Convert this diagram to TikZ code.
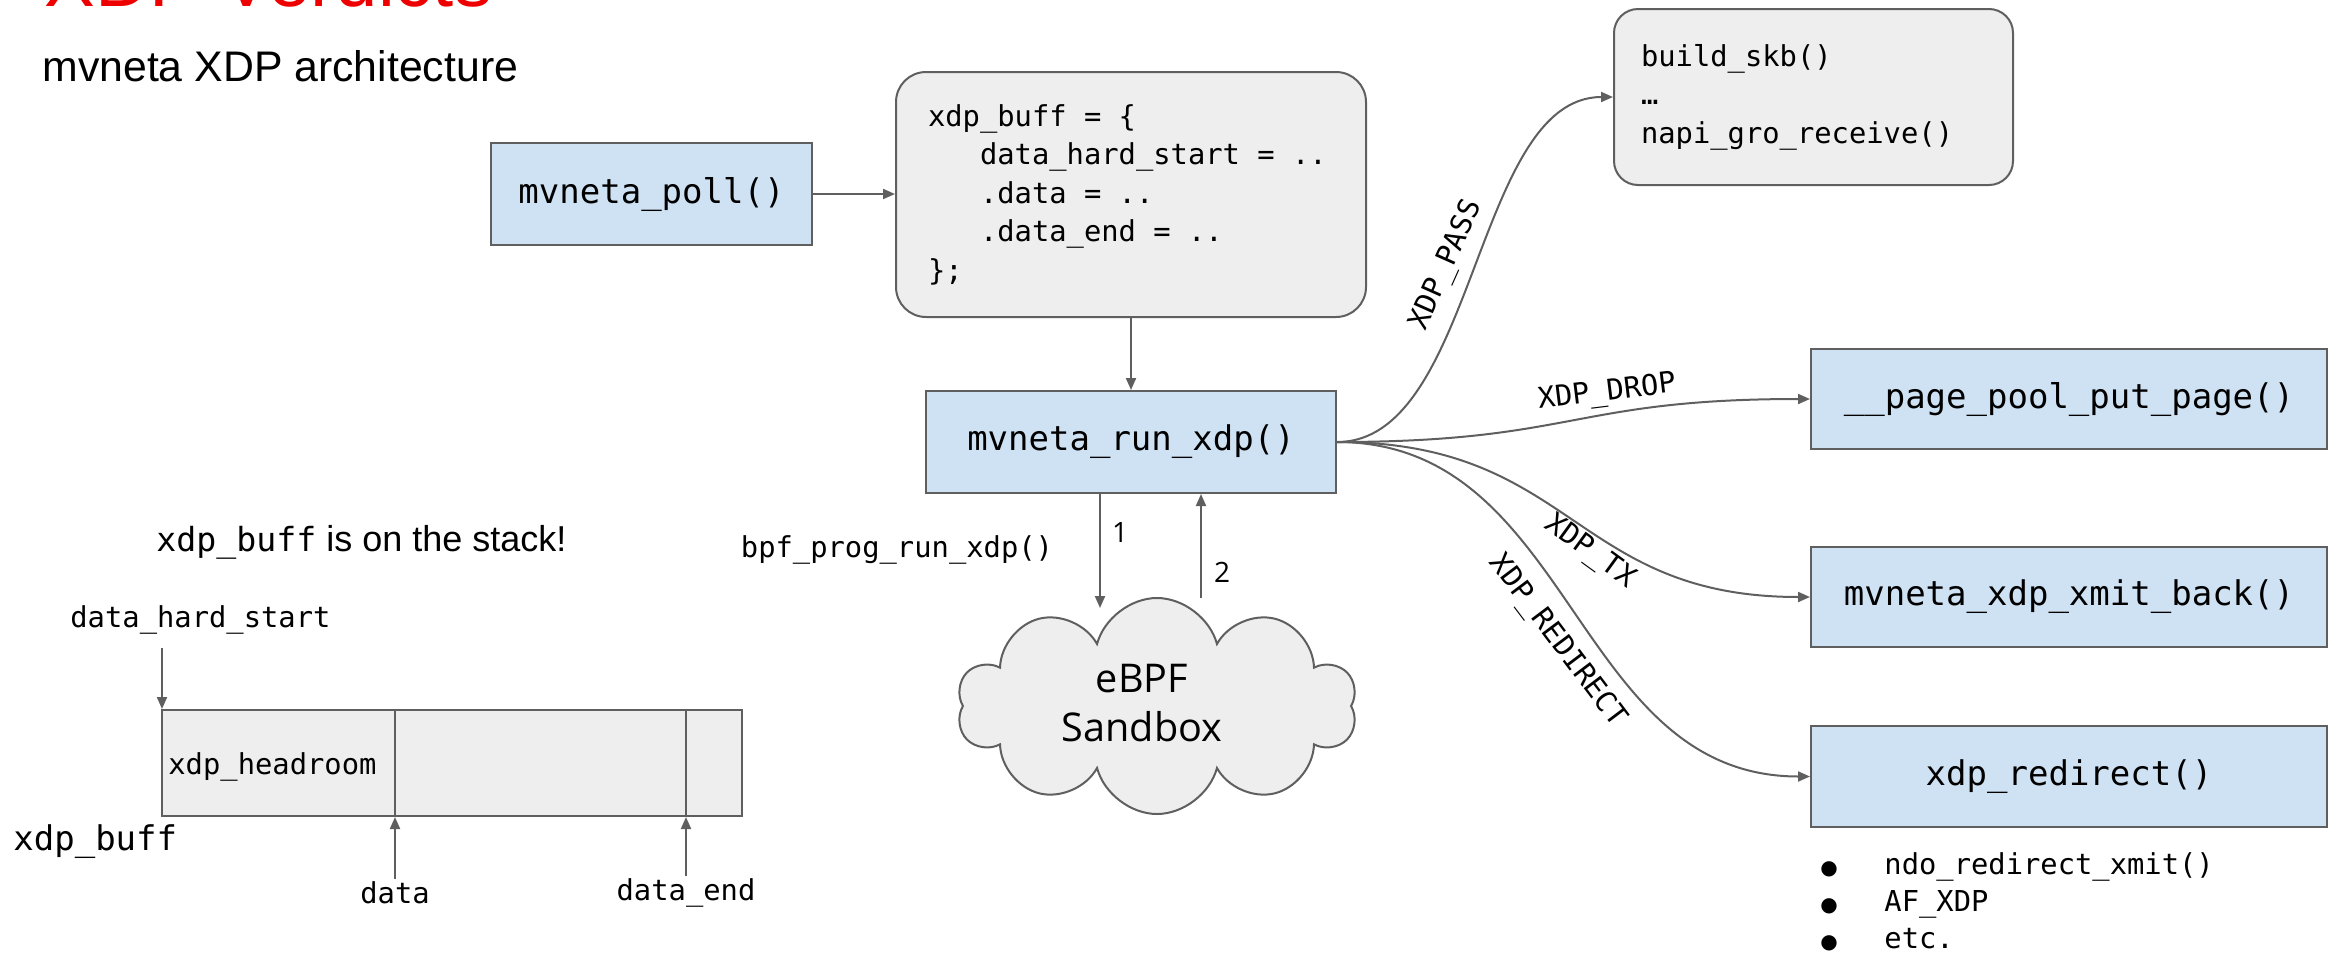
\documentclass[tikz,border=0pt]{standalone}
\usepackage{fontspec}
\setmainfont{Liberation Sans}
\newfontfamily\mono{DejaVu Sans Mono}
\newfontfamily\osans{Open Sans}
\newfontfamily\dvsans{DejaVu Sans}
\usetikzlibrary{shapes.symbols,arrows.meta}
\definecolor{boxblue}{HTML}{CFE2F3}
\definecolor{boxgray}{HTML}{EEEEEE}
\definecolor{edgegray}{HTML}{5F5F5F}
\definecolor{titlered}{HTML}{EE0000}
\newcommand\monosmall{\mono\fontsize{14.4}{19.25}\selectfont}
\newcommand\monobig{\mono\fontsize{17}{20}\selectfont}
\newcommand\ms{\hspace*{0.602em}}
\newcommand\bul{\makebox[32pt][l]{\dvsans\fontsize{10}{10}\selectfont ●}}
\tikzset{
  bluebox/.style={draw=edgegray, fill=boxblue, line width=1pt, font=\monobig, inner sep=0pt},
  graybox/.style={draw=edgegray, fill=boxgray, line width=1pt, rounded corners=15pt, align=left, font=\monosmall},
  arr/.style={draw=edgegray, line width=1pt, -{Triangle[length=6pt,width=5pt]}},
  plainline/.style={draw=edgegray, line width=1pt},
  lbl/.style={font=\monosmall, inner sep=1pt},
}
\begin{document}
\begin{tikzpicture}[x=0.5pt,y=-0.5pt]
\useasboundingbox (0,0) rectangle (2341,954);
\clip (0,0) rectangle (2341,954);
% titles
\node[anchor=base west, inner sep=0, text=titlered, font=\fontsize{38}{40}\selectfont] (title) at (44,6) {XDP Verdicts};
\node[anchor=base west, inner sep=0, font=\fontsize{21.4}{24}\selectfont] (sub) at (42,81) {mvneta XDP architecture};
% top row
\node[bluebox, minimum width=160.5pt, minimum height=51pt] (poll) at (651.5,194) {mvneta\_poll()};
\node[graybox, minimum width=235pt, minimum height=122.5pt, inner xsep=16pt, text width=203pt] (buff) at (1131,194.5)
  {xdp\_buff\ms=\ms\{\\\ms\ms\ms data\_hard\_start\ms=\ms..\\\ms\ms\ms.data\ms=\ms..\\\ms\ms\ms.data\_end\ms=\ms..\\\};};
\node[graybox, rounded corners=12pt, minimum width=199.5pt, minimum height=88pt, inner xsep=13.5pt, text width=172.5pt] (skb) at (1813.5,97)
  {build\_skb()\\…\\napi\_gro\_receive()};
\node[bluebox, minimum width=205pt, minimum height=51pt] (run) at (1131,442) {mvneta\_run\_xdp()};
% right boxes
\node[bluebox, minimum width=258pt, minimum height=50pt] (drop) at (2069,399) {\_\_page\_pool\_put\_page()};
\node[bluebox, minimum width=258pt, minimum height=50pt] (tx) at (2069,597) {mvneta\_xdp\_xmit\_back()};
\node[bluebox, minimum width=258pt, minimum height=50.5pt] (redir) at (2069,776.5) {xdp\_redirect()};
\node[anchor=west, inner sep=0, align=left, font=\mono\fontsize{14.4}{18.5}\selectfont] (bullets) at (1820,902)
  {\bul ndo\_redirect\_xmit()\\\bul AF\_XDP\\\bul etc.};
% cloud
\node[cloud, cloud puffs=10, cloud ignores aspect, draw=edgegray, fill=boxgray, line width=1pt, inner sep=0pt,
  minimum width=200pt, minimum height=108pt] (cloud) at (1157,706) {};
\node[align=center, inner sep=0, font=\osans\fontsize{19.8}{24.5}\selectfont] (cloudtext) at (1142,703) {eBPF\\Sandbox};
% connectors
\draw[arr] (poll.east) -- (poll.east -| buff.west);
\draw[arr] (buff.south) -- (run.north);
\coordinate (c1) at (1100,608);
\coordinate (c2) at (1201,598);
\draw[arr] (run.south -| c1) -- (c1);
\draw[arr] (c2) -- (run.south -| c2);
\node[font=\osans\fontsize{14}{16}\selectfont, inner sep=0] (one) at (1120,532) {1};
\node[font=\osans\fontsize{14}{16}\selectfont, inner sep=0] (two) at (1222,572) {2};
\node[lbl] (bpf) at (897,550) {bpf\_prog\_run\_xdp()};
\draw[arr] (run.east) .. controls +(139,0) and +(-139,0) .. (skb.west);
\draw[arr] (run.east) .. controls +(237.5,0) and +(-237.5,0) .. (drop.west);
\draw[arr] (run.east) .. controls +(237.5,0) and +(-237.5,0) .. (tx.west);
\draw[arr] (run.east) .. controls +(237.5,0) and +(-237.5,0) .. (redir.west);
\node[lbl, rotate=66] (lpass) at (1447,265) {XDP\_PASS};
\node[lbl, rotate=7] (ldrop) at (1607,393) {XDP\_DROP};
\node[lbl, rotate=-36] (ltx) at (1590,552) {XDP\_TX};
\node[lbl, rotate=-53] (lredir) at (1557,641) {XDP\_REDIRECT};
% buffer diagram
\node[anchor=west, inner sep=0, font=\mono\fontsize{16.6}{20}\selectfont] (stack) at (156,542)
  {xdp\_buff{\normalfont\fontsize{18}{20}\selectfont\ is on the stack!}};
\node[lbl, anchor=west, inner sep=0] (dhs) at (70,620) {data\_hard\_start};
\node[draw=edgegray, fill=boxgray, line width=1pt, minimum width=290pt, minimum height=53pt, inner sep=0] (buf) at (452,763) {};
\node[lbl, anchor=west, inner sep=0] (head) at (168,767) {xdp\_headroom};
\node[anchor=west, inner sep=0, font=\mono\fontsize{17}{20}\selectfont] (bufname) at (13,842) {xdp\_buff};
\node[lbl] (data) at (395,893) {data};
\node[lbl] (dend) at (686,893) {data\_end};
\coordinate (hs) at (162,648);
\draw[arr] (hs) -- (hs |- buf.north);
\draw[plainline] (buf.north -| data) -- (buf.south -| data);
\draw[plainline] (buf.north -| dend) -- (buf.south -| dend);
\draw[arr] (data.north) -- (buf.south -| data);
\draw[arr] (dend.north) -- (buf.south -| dend);
\end{tikzpicture}
\end{document}
